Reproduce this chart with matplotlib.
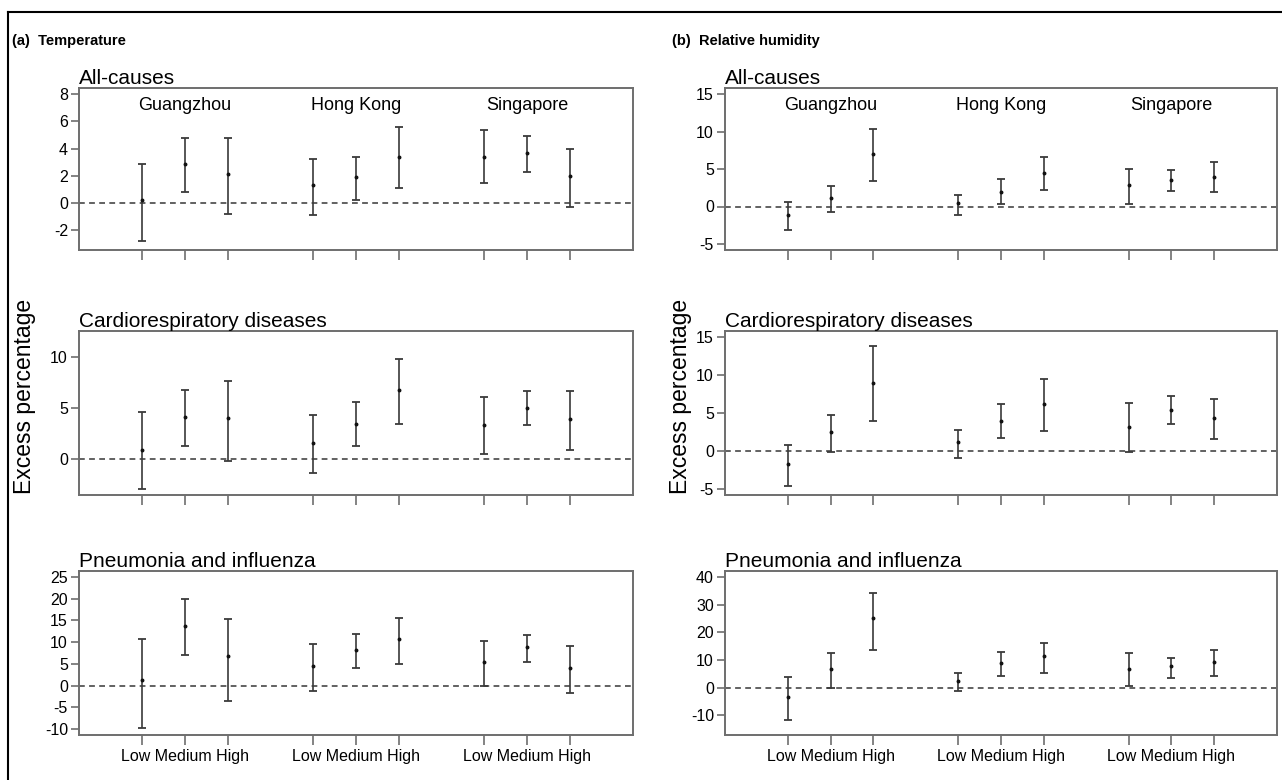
import matplotlib
matplotlib.use("Agg")
import matplotlib.pyplot as plt
from matplotlib.lines import Line2D

plt.rcParams['font.family'] = ['Liberation Sans', 'DejaVu Sans']

# ---------------- data ----------------
cities = ["Guangzhou", "Hong Kong", "Singapore"]
levels = ["Low", "Medium", "High"]
x_pos = [1, 2, 3, 5, 6, 7, 9, 10, 11]

temp_all_est = [0.2, 2.9, 2.1, 1.3, 1.9, 3.4, 3.4, 3.7, 2.0]
temp_all_lo = [-2.8, 0.8, -0.8, -0.85, 0.25, 1.1, 1.45, 2.3, -0.25]
temp_all_hi = [2.9, 4.75, 4.75, 3.25, 3.35, 5.55, 5.35, 4.9, 4.0]

temp_cardio_est = [0.85, 4.1, 4.0, 1.5, 3.45, 6.8, 3.35, 5.0, 3.9]
temp_cardio_lo = [-3.0, 1.2, -0.2, -1.45, 1.2, 3.45, 0.45, 3.3, 0.8]
temp_cardio_hi = [4.55, 6.8, 7.65, 4.3, 5.6, 9.8, 6.05, 6.7, 6.7]

temp_pneu_est = [1.2, 13.8, 6.8, 4.5, 8.2, 10.8, 5.4, 8.8, 4.0]
temp_pneu_lo = [-9.9, 7.1, -3.6, -1.3, 4.0, 5.0, 0.0, 5.4, -1.7]
temp_pneu_hi = [10.8, 19.9, 15.3, 9.6, 11.8, 15.6, 10.3, 11.6, 9.1]

rh_all_est = [-1.1, 1.2, 7.0, 0.45, 2.0, 4.5, 2.9, 3.6, 4.0]
rh_all_lo = [-3.1, -0.7, 3.45, -1.1, 0.3, 2.2, 0.3, 2.05, 1.9]
rh_all_hi = [0.6, 2.75, 10.3, 1.5, 3.65, 6.65, 5.0, 4.9, 5.9]

rh_cardio_est = [-1.7, 2.45, 9.0, 1.15, 4.0, 6.2, 3.15, 5.45, 4.3]
rh_cardio_lo = [-4.6, -0.2, 3.9, -0.9, 1.65, 2.6, -0.2, 3.5, 1.6]
rh_cardio_hi = [0.85, 4.7, 13.8, 2.7, 6.25, 9.5, 6.3, 7.3, 6.9]

rh_pneu_est = [-3.4, 6.8, 25.0, 2.5, 9.0, 11.3, 6.8, 7.8, 9.2]
rh_pneu_lo = [-11.7, -0.1, 13.6, -1.1, 4.1, 5.4, 0.5, 3.4, 4.1]
rh_pneu_hi = [3.7, 12.4, 34.4, 5.2, 12.8, 16.3, 12.4, 10.8, 13.5]

row_titles = ["All-causes", "Cardiorespiratory diseases", "Pneumonia and influenza"]
panel_titles = ["(a)  Temperature", "(b)  Relative humidity"]

temp_yticks = [[-2, 0, 2, 4, 6, 8], [0, 5, 10], [-10, -5, 0, 5, 10, 15, 20, 25]]
rh_yticks = [[-5, 0, 5, 10, 15], [-5, 0, 5, 10, 15], [-10, 0, 10, 20, 30, 40]]

# ---------------- layout ----------------
W, H = 1282, 780
fig = plt.figure(figsize=(W / 100, H / 100), dpi=100)

def fx(px):
    return px / W

def fy(py):
    return 1 - py / H

col_x = [(79, 633), (725, 1277)]
row_y = [(88, 250), (331, 495), (571, 735)]

def ext(a, b):
    d = (b - a) * 0.04
    return a - d, b + d

temp_ylim = [(-3, 8), (-3, 12), (-10, 25)]
rh_ylim = [(-5, 15), (-5, 15), (-15, 40)]

temp_data = [(temp_all_est, temp_all_lo, temp_all_hi),
             (temp_cardio_est, temp_cardio_lo, temp_cardio_hi),
             (temp_pneu_est, temp_pneu_lo, temp_pneu_hi)]
rh_data = [(rh_all_est, rh_all_lo, rh_all_hi),
           (rh_cardio_est, rh_cardio_lo, rh_cardio_hi),
           (rh_pneu_est, rh_pneu_lo, rh_pneu_hi)]

spine_col = "#6e6e6e"
bar_col = "#3a3a3a"

# one label line per city group, centred under the middle tick
group_label = " ".join(levels)
xtick_labels = ["", group_label, ""] * 3

for c, (data, ylims, yticks) in enumerate([(temp_data, temp_ylim, temp_yticks),
                                           (rh_data, rh_ylim, rh_yticks)]):
    x0, x1 = col_x[c]
    for r in range(3):
        y0, y1 = row_y[r]
        ax = fig.add_axes([fx(x0), fy(y1), fx(x1 - x0), (y1 - y0) / H])
        est, lo, hi = data[r]
        yerr = [[e - l for e, l in zip(est, lo)], [h - e for e, h in zip(est, hi)]]
        ax.axhline(0, color="#555555", lw=1.3, ls=(0, (3.2, 2.4)), zorder=1)
        ax.errorbar(x_pos, est, yerr=yerr, fmt='o', ms=1.8, color="#111111",
                    ecolor=bar_col, elinewidth=1.2, capsize=2.6, capthick=1.3,
                    zorder=3)
        ax.set_xlim(*ext(0, 12))
        ax.set_ylim(*ext(*ylims[r]))
        ax.set_yticks(yticks[r])
        ax.set_yticklabels([str(t) for t in yticks[r]], fontsize=11.5)
        ax.set_xticks(x_pos)
        if r == 2:
            ax.set_xticklabels(xtick_labels, fontsize=11.5)
        else:
            ax.set_xticklabels([])
        ax.tick_params(axis='both', direction='out', color=spine_col, width=1.2,
                       length=6, pad=2, labelcolor="black")
        ax.tick_params(axis='x', length=7, pad=3)
        for sp in ax.spines.values():
            sp.set_color(spine_col)
            sp.set_linewidth(1.4)
        ax.set_title(row_titles[r], loc='left', fontsize=15, pad=3, x=0.0)
        if r == 0:
            for i, city in enumerate(cities):
                ax.text(x_pos[3 * i + 1], 0.89, city, fontsize=13, ha='center',
                        va='center', transform=ax.get_xaxis_transform())
        if r == 1:
            ax.set_ylabel("Excess percentage", fontsize=16.5)
            ax.yaxis.set_label_coords(-0.078 if c == 0 else -0.06, 0.6)

# panel headings
fig.text(fx(12), fy(41), panel_titles[0], fontsize=10.5, fontweight='bold',
         ha='left', va='center')
fig.text(fx(672), fy(41), panel_titles[1], fontsize=10.5, fontweight='bold',
         ha='left', va='center')

# outer frame (top and left edges)
fig.add_artist(Line2D([fx(8), 1.0], [fy(12), fy(12)], color="black", lw=1.5))
fig.add_artist(Line2D([fx(8), fx(8)], [fy(12), 0.0], color="black", lw=1.5))

fig.savefig("out.png", dpi=100)
